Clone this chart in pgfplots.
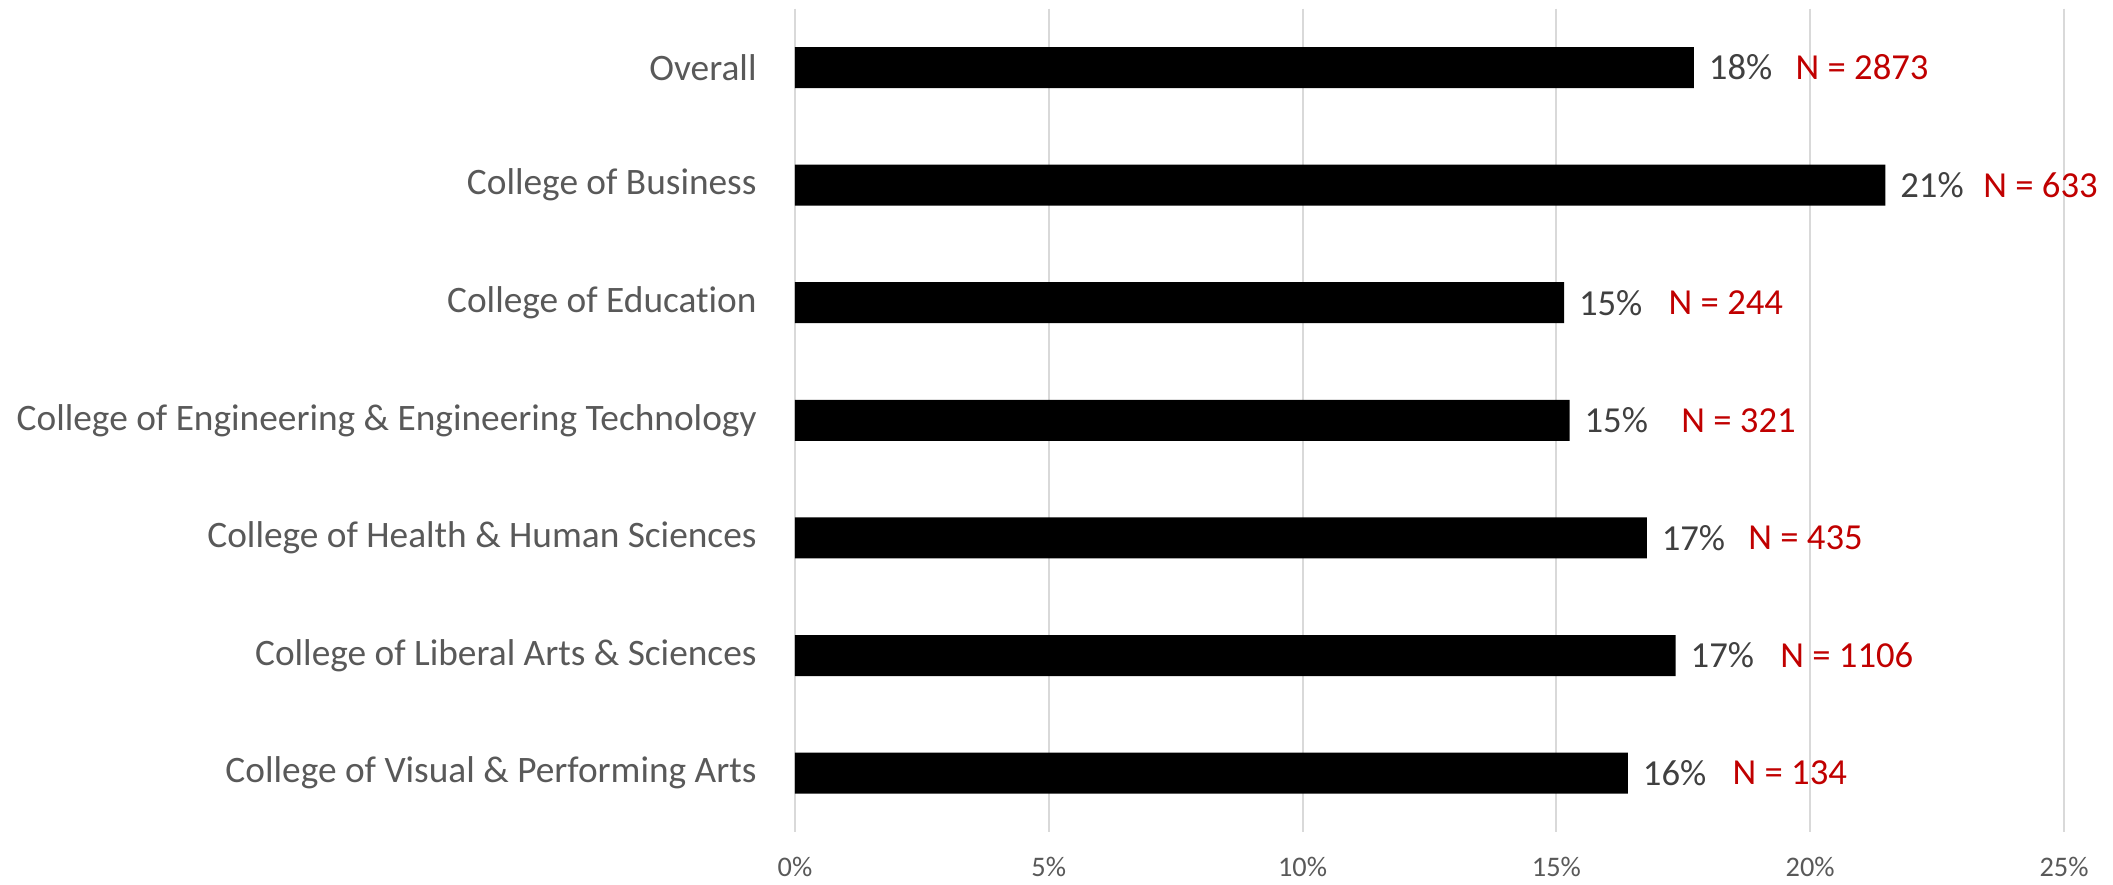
\documentclass[border=0pt]{standalone}
\usepackage{fontspec}
\setmainfont{Carlito}[Ligatures=NoCommon]
\usepackage{pgfplots}
\usepackage{pgfplotstable}
\pgfplotsset{compat=1.18}

\definecolor{labelgray}{HTML}{595959}
\definecolor{valgray}{HTML}{404040}
\definecolor{gridgray}{HTML}{D9D9D9}
\definecolor{nred}{HTML}{C00000}

% share of each college (percent), row 0 = Overall
\pgfplotstableread{
pos share
0 17.71
1 21.48
2 15.15
3 15.26
4 16.78
5 17.35
6 16.41
}\sharetable

% where the N = ... notes sit (in percent units)
\pgfplotstableread{
pos xpos n
0 19.70 2873
1 23.40 633
2 17.20 244
3 17.45 321
4 18.77 435
5 19.40 1106
6 18.46 134
}\ntable

\begin{document}
\begin{tikzpicture}
\begin{axis}[
  scale only axis,
  width=380.7pt, height=247pt,
  xmin=0, xmax=25,
  ymin=-0.5, ymax=6.5,
  y dir=reverse,
  xtick={0,5,...,25},
  xticklabel={\pgfmathprintnumber{\tick}\%},
  ytick={0,...,6},
  yticklabels={Overall, College of Business, College of Education,
    College of Engineering \& Engineering Technology,
    College of Health \& Human Sciences, College of Liberal Arts \& Sciences,
    College of Visual \& Performing Arts},
  /pgf/number format/assume math mode=true,
  xmajorgrids,
  grid style={gridgray, line width=0.6pt},
  axis line style={draw=none},
  major tick length=0pt,
  xticklabel style={font=\fontsize{8.5}{10}\selectfont, text=labelgray, yshift=-4pt},
  yticklabel style={font=\fontsize{11.2}{13}\selectfont, text=labelgray, xshift=-8pt},
  clip=false,
]
\addplot[xbar, bar width=12.3pt, fill=black, draw=none,
  point meta=x,
  nodes near coords={\pgfmathprintnumber[fixed,precision=0]{\pgfplotspointmeta}\%},
  nodes near coords style={anchor=west, inner sep=0pt, xshift=4.3pt,
    text=valgray, font=\fontsize{11}{13}\selectfont},
] table[x=share, y=pos] {\sharetable};

\addplot[only marks, mark=none,
  point meta=explicit symbolic,
  nodes near coords={N = \pgfplotspointmeta},
  nodes near coords style={anchor=west, inner sep=0pt,
    text=nred, font=\fontsize{11}{13}\selectfont},
] table[x=xpos, y=pos, meta=n] {\ntable};
\end{axis}
\pgfresetboundingbox
\path[use as bounding box]
  ([xshift=-238.5pt, yshift=-15.6pt]current axis.south west) rectangle
  ([xshift=395.4pt, yshift=249.6pt]current axis.south west);
\end{tikzpicture}
\end{document}
